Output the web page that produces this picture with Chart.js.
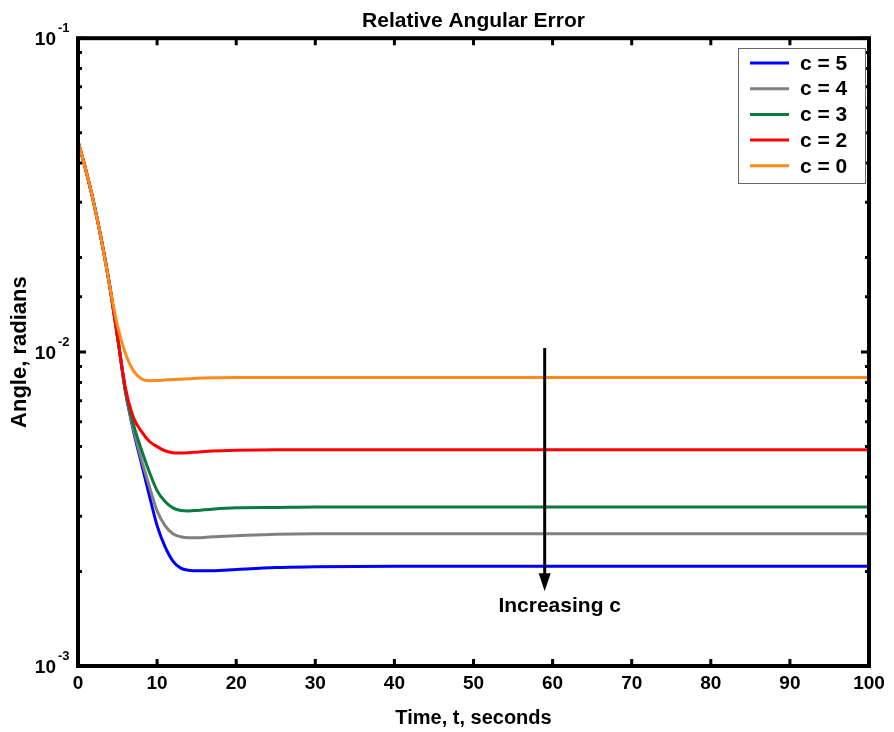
<!DOCTYPE html>
<html>
<head>
<meta charset="utf-8">
<script src="https://cdn.jsdelivr.net/npm/chart.js@4.4.0/dist/chart.umd.min.js"></script>
<style>
  html, body { margin: 0; padding: 0; background: #fff; }
  #wrap { width: 894px; height: 732px; }
</style>
</head>
<body>
<div id="wrap"><canvas id="chart" width="894" height="732"></canvas></div>
<script>
// time axis (seconds)
var times = [0, 1, 2, 3, 4, 5, 6, 7, 8, 9, 10, 11, 12, 13, 14, 15, 17, 20, 25, 30, 40, 50, 60, 70, 80, 90, 100];

// relative angular error, radians
var errC0 = [0.0469, 0.0379, 0.0298, 0.0225, 0.0163, 0.0121, 0.0099, 0.00873, 0.00823, 0.0081, 0.00812, 0.00815, 0.00818, 0.0082, 0.00822, 0.00825, 0.00828, 0.0083, 0.0083, 0.0083, 0.0083, 0.0083, 0.0083, 0.0083, 0.0083, 0.0083, 0.0083];
var errC2 = [0.0469, 0.0379, 0.0298, 0.0225, 0.0163, 0.0111, 0.0077, 0.0062, 0.0056, 0.0052, 0.0050, 0.00485, 0.00478, 0.00477, 0.00478, 0.0048, 0.00484, 0.00487, 0.00489, 0.00489, 0.00489, 0.00489, 0.00489, 0.00489, 0.00489, 0.00489, 0.00489];
var errC3 = [0.0469, 0.0379, 0.0298, 0.0225, 0.0163, 0.0112, 0.0075, 0.0059, 0.0049, 0.00416, 0.00362, 0.00334, 0.00319, 0.00313, 0.00312, 0.00313, 0.00316, 0.00319, 0.0032, 0.00321, 0.00321, 0.00321, 0.00321, 0.00321, 0.00321, 0.00321, 0.00321];
var errC4 = [0.0469, 0.0379, 0.0298, 0.0225, 0.0163, 0.0112, 0.0075, 0.0057, 0.00457, 0.00375, 0.00312, 0.0028, 0.00264, 0.00258, 0.00256, 0.00256, 0.00258, 0.0026, 0.00263, 0.00264, 0.00264, 0.00264, 0.00264, 0.00264, 0.00264, 0.00264, 0.00264];
var errC5 = [0.0469, 0.0379, 0.0298, 0.0225, 0.0163, 0.0112, 0.0075, 0.00562, 0.00444, 0.00351, 0.0028, 0.0024, 0.00216, 0.00205, 0.00202, 0.00201, 0.00201, 0.00203, 0.00206, 0.00207, 0.00208, 0.00208, 0.00208, 0.00208, 0.00208, 0.00208, 0.00208];

var seriesLabels = ['c = 0', 'c = 2', 'c = 3', 'c = 4', 'c = 5'];
var seriesColors = ['#ff8a1c', '#ff0000', '#0a7a3e', '#808080', '#0000ff'];
var seriesData = [errC0, errC2, errC3, errC4, errC5];

// arrow annotation
var arrowT = 59;
var arrowFrom = 0.0103;
var arrowTo = 0.00173;
var arrowText = 'Increasing c';

var FONT = '"Liberation Sans", Arial, sans-serif';

function toPoints(ys) {
    return ys.map(function (y, i) { return { x: times[i], y: y }; });
}

var datasets = seriesData.map(function (ys, i) {
    return {
        label: seriesLabels[i],
        data: toPoints(ys),
        borderColor: seriesColors[i],
        backgroundColor: seriesColors[i],
        borderWidth: 3,
        pointRadius: 0,
        cubicInterpolationMode: 'monotone',
        fill: false
    };
});

// axes box, inward ticks, y labels, legend, arrow
var decorPlugin = {
    id: 'decor',
    afterDatasetsDraw: function (chart) {
        var ctx = chart.ctx;
        var a = chart.chartArea;
        var xs = chart.scales.x;
        var ys = chart.scales.y;
        ctx.save();
        ctx.strokeStyle = '#000';
        ctx.fillStyle = '#000';

        // ticks
        ctx.lineWidth = 3;
        xs.ticks.forEach(function (t) {
            var px = xs.getPixelForValue(t.value);
            ctx.beginPath();
            ctx.moveTo(px, a.bottom); ctx.lineTo(px, a.bottom - 7);
            ctx.moveTo(px, a.top); ctx.lineTo(px, a.top + 7);
            ctx.stroke();
        });
        ys.ticks.forEach(function (t) {
            var py = ys.getPixelForValue(t.value);
            var lg = Math.log10(t.value);
            var major = Math.abs(lg - Math.round(lg)) < 1e-6;
            var len = major ? 8 : 4;
            ctx.beginPath();
            ctx.moveTo(a.left, py); ctx.lineTo(a.left + len, py);
            ctx.moveTo(a.right, py); ctx.lineTo(a.right - len, py);
            ctx.stroke();
            if (major) {
                ctx.font = 'bold 19px ' + FONT;
                ctx.textAlign = 'right';
                ctx.textBaseline = 'middle';
                ctx.fillText('10', 56, py + 2);
                ctx.font = 'bold 13px ' + FONT;
                ctx.textAlign = 'left';
                ctx.fillText(String(Math.round(lg)), 58, py - 10);
            }
        });

        // box
        ctx.lineWidth = 4;
        ctx.strokeRect(a.left, a.top, a.right - a.left, a.bottom - a.top);

        // arrow
        var ax = xs.getPixelForValue(arrowT);
        var y1 = ys.getPixelForValue(arrowFrom);
        var y2 = ys.getPixelForValue(arrowTo);
        ctx.lineWidth = 3;
        ctx.beginPath();
        ctx.moveTo(ax, y1); ctx.lineTo(ax, y2 - 16);
        ctx.stroke();
        ctx.beginPath();
        ctx.moveTo(ax - 6, y2 - 18); ctx.lineTo(ax + 6, y2 - 18); ctx.lineTo(ax, y2);
        ctx.closePath();
        ctx.fill();
        ctx.font = 'bold 21px ' + FONT;
        ctx.textAlign = 'center';
        ctx.textBaseline = 'middle';
        ctx.fillText(arrowText, ax + 15, y2 + 15);

        // legend (c = 5 at top)
        var lx = 738, ly = 48, lw = 127, lh = 135;
        ctx.fillStyle = '#fff';
        ctx.fillRect(lx, ly, lw, lh);
        ctx.lineWidth = 1;
        ctx.strokeStyle = '#666';
        ctx.strokeRect(lx + 0.5, ly + 0.5, lw, lh);
        var order = [4, 3, 2, 1, 0];
        order.forEach(function (di, row) {
            var ry = ly + 15 + row * 25.7;
            ctx.strokeStyle = chart.data.datasets[di].borderColor;
            ctx.lineWidth = 3;
            ctx.beginPath();
            ctx.moveTo(750, ry); ctx.lineTo(789, ry);
            ctx.stroke();
            ctx.fillStyle = '#000';
            ctx.font = 'bold 21px ' + FONT;
            ctx.textAlign = 'left';
            ctx.textBaseline = 'middle';
            ctx.fillText(chart.data.datasets[di].label, 800, ry + 1);
        });
        ctx.restore();
    }
};

var chart = new Chart(document.getElementById('chart').getContext('2d'), {
    type: 'line',
    data: { datasets: datasets },
    options: {
        responsive: false,
        animation: false,
        layout: { padding: { left: 0, right: 25, top: 0, bottom: 0 } },
        scales: {
            x: {
                type: 'linear',
                min: 0,
                max: 100,
                afterFit: function (s) { s.height = 66; },
                ticks: {
                    stepSize: 10,
                    padding: 6,
                    color: '#000',
                    font: { family: FONT, size: 19, weight: 'bold' }
                },
                grid: { display: false, drawTicks: false },
                border: { display: false },
                title: {
                    display: true,
                    text: 'Time, t, seconds',
                    color: '#000',
                    padding: { top: 0, bottom: 2 },
                    font: { family: FONT, size: 20, weight: 'bold' }
                }
            },
            y: {
                type: 'logarithmic',
                min: 0.001,
                max: 0.1,
                afterFit: function (s) { s.width = 78; },
                ticks: { display: false },
                grid: { display: false, drawTicks: false },
                border: { display: false },
                title: {
                    display: true,
                    text: 'Angle, radians',
                    color: '#000',
                    padding: { top: 7, bottom: 0 },
                    font: { family: FONT, size: 22, weight: 'bold' }
                }
            }
        },
        plugins: {
            legend: { display: false },
            tooltip: { enabled: false },
            title: {
                display: true,
                fullSize: false,
                text: 'Relative Angular Error',
                color: '#000',
                padding: { top: 9, bottom: 4 },
                font: { family: FONT, size: 21, weight: 'bold' }
            }
        }
    },
    plugins: [decorPlugin]
});
</script>
</body>
</html>
